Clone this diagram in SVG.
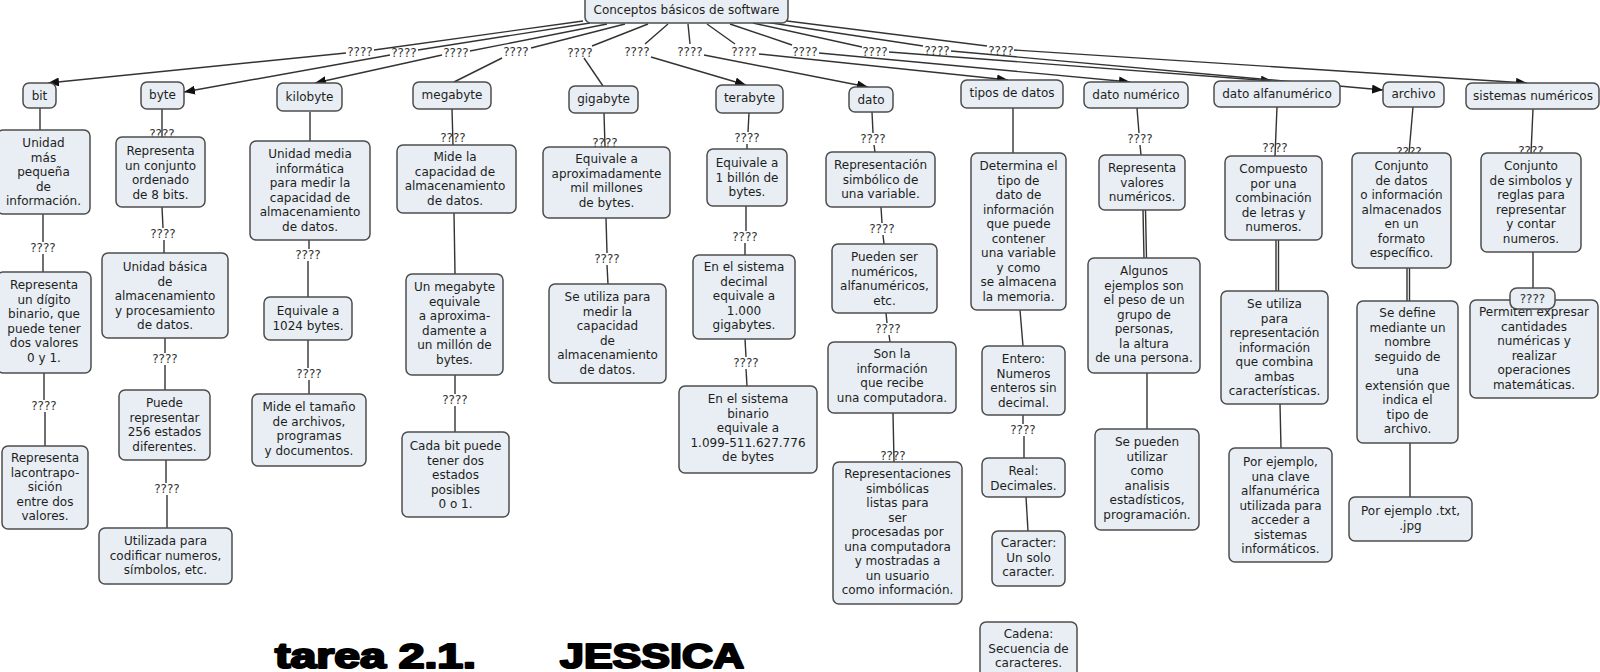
<svg xmlns="http://www.w3.org/2000/svg" width="1600" height="672" viewBox="0 0 1600 672">
<style>
.box{fill:#e8eef3;stroke:#4d4d4d;stroke-width:1.5}
.t{font-family:"DejaVu Sans",Verdana,sans-serif;font-size:12px;fill:#1e1e1e;text-anchor:middle}
.l{font-family:"DejaVu Sans",Verdana,sans-serif;font-size:12px;fill:#333;text-anchor:middle}
.c{stroke:#333;stroke-width:1.4;fill:none}
.a{stroke:#333;stroke-width:1.4;fill:none;marker-end:url(#arr)}
.big{font-family:"Liberation Sans",Arial,sans-serif;font-weight:bold;font-size:35px;fill:#000;stroke:#000;stroke-width:2.2;stroke-linejoin:round}
</style>
<defs>
<marker id="arr" markerUnits="userSpaceOnUse" markerWidth="12" markerHeight="10" refX="11" refY="4.5" orient="auto">
<path d="M0,0 L11,4.5 L0,9 z" fill="#111"/>
</marker>
</defs>
<rect width="1600" height="672" fill="#fff"/>
<g id="connectors">
<line class="c" x1="583" y1="21" x2="374" y2="50"/>
<line class="c" x1="590" y1="23" x2="418" y2="50"/>
<line class="c" x1="607" y1="24" x2="470" y2="51"/>
<line class="c" x1="625" y1="24" x2="531" y2="48"/>
<line class="c" x1="648" y1="24" x2="592" y2="46"/>
<line class="c" x1="668" y1="24" x2="645" y2="44"/>
<line class="c" x1="688" y1="24" x2="690" y2="44"/>
<line class="c" x1="707" y1="24" x2="735" y2="44"/>
<line class="c" x1="730" y1="24" x2="792" y2="45"/>
<line class="c" x1="753" y1="23" x2="862" y2="47"/>
<line class="c" x1="765" y1="22" x2="923" y2="46"/>
<line class="c" x1="787" y1="21" x2="987" y2="46"/>
<line class="a" x1="346" y1="53" x2="48" y2="83"/>
<line class="a" x1="390" y1="55" x2="184" y2="92"/>
<line class="a" x1="442" y1="55" x2="315" y2="83"/>
<line class="c" x1="502" y1="58" x2="454" y2="82"/>
<line class="c" x1="584" y1="58" x2="603" y2="86"/>
<line class="a" x1="651" y1="57" x2="746" y2="85"/>
<line class="a" x1="704" y1="55" x2="868" y2="87"/>
<line class="a" x1="759" y1="54" x2="1008" y2="80"/>
<line class="a" x1="819" y1="53" x2="1130" y2="82"/>
<line class="a" x1="889" y1="52" x2="1272" y2="81"/>
<line class="a" x1="951" y1="51" x2="1383" y2="90"/>
<line class="a" x1="1014" y1="50" x2="1527" y2="83"/>
<g class="l">
<text x="360" y="56">????</text><text x="404" y="57">????</text><text x="456" y="57">????</text>
<text x="516" y="56">????</text><text x="580" y="57">????</text><text x="637" y="56">????</text>
<text x="690" y="56">????</text><text x="744" y="56">????</text><text x="805" y="56">????</text>
<text x="875" y="56">????</text><text x="937" y="55">????</text><text x="1001" y="55">????</text>
</g>
<line class="c" x1="40" y1="108" x2="40" y2="130"/>
<line class="c" x1="43" y1="214" x2="43" y2="242"/><line class="c" x1="43" y1="254" x2="43" y2="272"/>
<line class="c" x1="44" y1="373" x2="44" y2="400"/><line class="c" x1="45" y1="412" x2="45" y2="446"/>
<line class="c" x1="162" y1="109" x2="162" y2="137"/>
<line class="c" x1="162" y1="207" x2="163" y2="228"/><line class="c" x1="164" y1="240" x2="164" y2="253"/>
<line class="c" x1="165" y1="338" x2="165" y2="353"/><line class="c" x1="165" y1="365" x2="165" y2="390"/>
<line class="c" x1="166" y1="460" x2="166" y2="483"/><line class="c" x1="167" y1="495" x2="167" y2="528"/>
<line class="c" x1="310" y1="112" x2="310" y2="141"/>
<line class="c" x1="309" y1="240" x2="309" y2="249"/><line class="c" x1="308" y1="261" x2="308" y2="297"/>
<line class="c" x1="308" y1="340" x2="308" y2="368"/><line class="c" x1="309" y1="380" x2="309" y2="394"/>
<line class="c" x1="452" y1="109" x2="453" y2="145"/>
<line class="c" x1="454" y1="213" x2="455" y2="274"/>
<line class="c" x1="455" y1="375" x2="455" y2="394"/><line class="c" x1="455" y1="406" x2="455" y2="432"/>
<line class="c" x1="604" y1="113" x2="605" y2="147"/>
<line class="c" x1="606" y1="218" x2="607" y2="253"/><line class="c" x1="607" y1="265" x2="608" y2="284"/>
<line class="c" x1="749" y1="113" x2="748" y2="132"/><line class="c" x1="747" y1="144" x2="747" y2="149"/>
<line class="c" x1="746" y1="206" x2="746" y2="231"/><line class="c" x1="745" y1="243" x2="745" y2="255"/>
<line class="c" x1="745" y1="339" x2="746" y2="357"/><line class="c" x1="746" y1="369" x2="747" y2="386"/>
<line class="c" x1="872" y1="112" x2="873" y2="133"/><line class="c" x1="874" y1="145" x2="875" y2="152"/>
<line class="c" x1="881" y1="207" x2="882" y2="223"/><line class="c" x1="883" y1="235" x2="884" y2="244"/>
<line class="c" x1="886" y1="313" x2="887" y2="323"/><line class="c" x1="889" y1="335" x2="890" y2="342"/>
<line class="c" x1="893" y1="413" x2="894" y2="462"/>
<line class="c" x1="1013" y1="108" x2="1013" y2="153"/>
<line class="c" x1="1020" y1="310" x2="1023" y2="346"/>
<line class="c" x1="1023" y1="415" x2="1023" y2="424" stroke-width="2"/><line class="c" x1="1024" y1="436" x2="1024" y2="458" stroke-width="2"/>
<line class="c" x1="1026" y1="497" x2="1028" y2="531"/>
<line class="c" x1="1137" y1="108" x2="1139" y2="133"/><line class="c" x1="1140" y1="145" x2="1141" y2="155"/>
<line class="c" x1="1143" y1="210" x2="1144" y2="258"/><line class="c" x1="1145.5" y1="210" x2="1146.5" y2="258"/>
<line class="c" x1="1147" y1="373" x2="1147" y2="429"/>
<line class="c" x1="1277" y1="107" x2="1275" y2="156"/>
<line class="c" x1="1276" y1="240" x2="1276" y2="291"/><line class="c" x1="1278.5" y1="240" x2="1278.5" y2="291"/>
<line class="c" x1="1280" y1="404" x2="1281" y2="448"/>
<line class="c" x1="1413" y1="107" x2="1409" y2="153"/>
<line class="c" x1="1407" y1="268" x2="1407" y2="301"/><line class="c" x1="1409.5" y1="268" x2="1409.5" y2="301"/>
<line class="c" x1="1410" y1="443" x2="1410" y2="497"/>
<line class="c" x1="1533" y1="109" x2="1531" y2="153"/>
<line class="c" x1="1533" y1="252" x2="1533" y2="289"/>
<g class="l">
<text x="43" y="252">????</text><text x="44" y="410">????</text>
<text x="162" y="138">????</text><text x="163" y="238">????</text><text x="165" y="363">????</text><text x="167" y="493">????</text>
<text x="308" y="259">????</text><text x="309" y="378">????</text>
<text x="453" y="142">????</text><text x="455" y="404">????</text>
<text x="605" y="147">????</text><text x="607" y="263">????</text>
<text x="747" y="142">????</text><text x="745" y="241">????</text><text x="746" y="367">????</text>
<text x="873" y="143">????</text><text x="882" y="233">????</text><text x="888" y="333">????</text><text x="893" y="460">????</text>
<text x="1023" y="434">????</text>
<text x="1140" y="143">????</text>
<text x="1275" y="152">????</text>
<text x="1409" y="156">????</text>
<text x="1531" y="155">????</text>
</g>
</g>
<g id="root"><rect class="box" x="585" y="-6" width="203" height="29" rx="6"/><text class="t" x="686.5" y="14">Conceptos básicos de software</text></g>
<g id="bit"><rect class="box" x="23" y="83" width="33" height="25" rx="6"/><text class="t" x="39.5" y="100">bit</text></g>
<g id="byte"><rect class="box" x="141" y="82" width="43" height="27" rx="6"/><text class="t" x="162.5" y="99">byte</text></g>
<g id="kilobyte"><rect class="box" x="277" y="83" width="65" height="28" rx="6"/><text class="t" x="309.5" y="101">kilobyte</text></g>
<g id="megabyte"><rect class="box" x="413" y="82" width="78" height="27" rx="6"/><text class="t" x="452" y="99">megabyte</text></g>
<g id="gigabyte"><rect class="box" x="569" y="86" width="69" height="27" rx="6"/><text class="t" x="603.5" y="103">gigabyte</text></g>
<g id="terabyte"><rect class="box" x="716" y="85" width="67" height="28" rx="6"/><text class="t" x="749.5" y="102">terabyte</text></g>
<g id="dato"><rect class="box" x="849" y="87" width="44" height="25" rx="6"/><text class="t" x="871" y="104">dato</text></g>
<g id="tipos"><rect class="box" x="961" y="80" width="102" height="28" rx="6"/><text class="t" x="1012" y="97">tipos de datos</text></g>
<g id="numerico"><rect class="box" x="1084" y="82" width="104" height="26" rx="6"/><text class="t" x="1136" y="99">dato numérico</text></g>
<g id="alfanumerico"><rect class="box" x="1214" y="81" width="126" height="26" rx="6"/><text class="t" x="1277" y="98">dato alfanumérico</text></g>
<g id="archivo"><rect class="box" x="1383" y="82" width="61" height="25" rx="6"/><text class="t" x="1413.5" y="98">archivo</text></g>
<g id="sistemas"><rect class="box" x="1466" y="83" width="133" height="26" rx="6"/><text class="t" x="1533" y="100">sistemas numéricos</text></g>

<g id="bit1"><rect class="box" x="-3" y="130" width="93" height="84" rx="6"/><text class="t" y="147"><tspan x="43.5">Unidad</tspan><tspan x="43.5" dy="14.5">más</tspan><tspan x="43.5" dy="14.5">pequeña</tspan><tspan x="43.5" dy="14.5">de</tspan><tspan x="43.5" dy="14.5">información.</tspan></text></g>
<g id="bit2"><rect class="box" x="-3" y="272" width="94" height="101" rx="6"/><text class="t" y="289"><tspan x="44">Representa</tspan><tspan x="44" dy="14.5">un dígito</tspan><tspan x="44" dy="14.5">binario, que</tspan><tspan x="44" dy="14.5">puede tener</tspan><tspan x="44" dy="14.5">dos valores</tspan><tspan x="44" dy="14.5">0 y 1.</tspan></text></g>
<g id="bit3"><rect class="box" x="2" y="446" width="86" height="83" rx="6"/><text class="t" y="462"><tspan x="45">Representa</tspan><tspan x="45" dy="14.5">lacontrapo-</tspan><tspan x="45" dy="14.5">sición</tspan><tspan x="45" dy="14.5">entre dos</tspan><tspan x="45" dy="14.5">valores.</tspan></text></g>
<g id="byte1"><rect class="box" x="116" y="137" width="89" height="70" rx="6"/><text class="t" y="155"><tspan x="160.5">Representa</tspan><tspan x="160.5" dy="14.5">un conjunto</tspan><tspan x="160.5" dy="14.5">ordenado</tspan><tspan x="160.5" dy="14.5">de 8 bits.</tspan></text></g>
<g id="byte2"><rect class="box" x="102" y="253" width="126" height="85" rx="6"/><text class="t" y="271"><tspan x="165">Unidad básica</tspan><tspan x="165" dy="14.5">de</tspan><tspan x="165" dy="14.5">almacenamiento</tspan><tspan x="165" dy="14.5">y procesamiento</tspan><tspan x="165" dy="14.5">de datos.</tspan></text></g>
<g id="byte3"><rect class="box" x="119" y="390" width="91" height="70" rx="6"/><text class="t" y="407"><tspan x="164.5">Puede</tspan><tspan x="164.5" dy="14.5">representar</tspan><tspan x="164.5" dy="14.5">256 estados</tspan><tspan x="164.5" dy="14.5">diferentes.</tspan></text></g>
<g id="byte4"><rect class="box" x="99" y="528" width="133" height="56" rx="6"/><text class="t" y="545"><tspan x="165.5">Utilizada para</tspan><tspan x="165.5" dy="14.5">codificar numeros,</tspan><tspan x="165.5" dy="14.5">símbolos, etc.</tspan></text></g>
<g id="kb1"><rect class="box" x="250" y="141" width="120" height="99" rx="6"/><text class="t" y="158"><tspan x="310">Unidad media</tspan><tspan x="310" dy="14.5">informática</tspan><tspan x="310" dy="14.5">para medir la</tspan><tspan x="310" dy="14.5">capacidad de</tspan><tspan x="310" dy="14.5">almacenamiento</tspan><tspan x="310" dy="14.5">de datos.</tspan></text></g>
<g id="kb2"><rect class="box" x="264" y="297" width="88" height="43" rx="6"/><text class="t" y="315"><tspan x="308">Equivale a</tspan><tspan x="308" dy="14.5">1024 bytes.</tspan></text></g>
<g id="kb3"><rect class="box" x="252" y="394" width="114" height="72" rx="6"/><text class="t" y="411"><tspan x="309">Mide el tamaño</tspan><tspan x="309" dy="14.5">de archivos,</tspan><tspan x="309" dy="14.5">programas</tspan><tspan x="309" dy="14.5">y documentos.</tspan></text></g>
<g id="mb1"><rect class="box" x="397" y="145" width="119" height="68" rx="6"/><text class="t" y="161"><tspan x="455">Mide la</tspan><tspan x="455" dy="14.5">capacidad de</tspan><tspan x="455" dy="14.5">almacenamiento</tspan><tspan x="455" dy="14.5">de datos.</tspan></text></g>
<g id="mb2"><rect class="box" x="406" y="274" width="97" height="101" rx="6"/><text class="t" y="291"><tspan x="454.5">Un megabyte</tspan><tspan x="454.5" dy="14.5">equivale</tspan><tspan x="454.5" dy="14.5">a aproxima-</tspan><tspan x="454.5" dy="14.5">damente a</tspan><tspan x="454.5" dy="14.5">un millón de</tspan><tspan x="454.5" dy="14.5">bytes.</tspan></text></g>
<g id="mb3"><rect class="box" x="402" y="432" width="107" height="85" rx="6"/><text class="t" y="450"><tspan x="455.5">Cada bit puede</tspan><tspan x="455.5" dy="14.5">tener dos</tspan><tspan x="455.5" dy="14.5">estados</tspan><tspan x="455.5" dy="14.5">posibles</tspan><tspan x="455.5" dy="14.5">0 o 1.</tspan></text></g>
<g id="gb1"><rect class="box" x="543" y="147" width="127" height="71" rx="6"/><text class="t" y="163"><tspan x="606.5">Equivale a</tspan><tspan x="606.5" dy="14.5">aproximadamente</tspan><tspan x="606.5" dy="14.5">mil millones</tspan><tspan x="606.5" dy="14.5">de bytes.</tspan></text></g>
<g id="gb2"><rect class="box" x="549" y="284" width="117" height="99" rx="6"/><text class="t" y="301"><tspan x="607.5">Se utiliza para</tspan><tspan x="607.5" dy="14.5">medir la</tspan><tspan x="607.5" dy="14.5">capacidad</tspan><tspan x="607.5" dy="14.5">de</tspan><tspan x="607.5" dy="14.5">almacenamiento</tspan><tspan x="607.5" dy="14.5">de datos.</tspan></text></g>
<g id="tb1"><rect class="box" x="707" y="149" width="80" height="57" rx="6"/><text class="t" y="167"><tspan x="747">Equivale a</tspan><tspan x="747" dy="14.5">1 billón de</tspan><tspan x="747" dy="14.5">bytes.</tspan></text></g>
<g id="tb2"><rect class="box" x="693" y="255" width="102" height="84" rx="6"/><text class="t" y="271"><tspan x="744">En el sistema</tspan><tspan x="744" dy="14.5">decimal</tspan><tspan x="744" dy="14.5">equivale a</tspan><tspan x="744" dy="14.5">1.000</tspan><tspan x="744" dy="14.5">gigabytes.</tspan></text></g>
<g id="tb3"><rect class="box" x="679" y="386" width="138" height="87" rx="6"/><text class="t" y="403"><tspan x="748">En el sistema</tspan><tspan x="748" dy="14.5">binario</tspan><tspan x="748" dy="14.5">equivale a</tspan><tspan x="748" dy="14.5">1.099-511.627.776</tspan><tspan x="748" dy="14.5">de bytes</tspan></text></g>
<g id="d1"><rect class="box" x="826" y="152" width="109" height="55" rx="6"/><text class="t" y="169"><tspan x="880.5">Representación</tspan><tspan x="880.5" dy="14.5">simbólico de</tspan><tspan x="880.5" dy="14.5">una variable.</tspan></text></g>
<g id="d2"><rect class="box" x="832" y="244" width="105" height="69" rx="6"/><text class="t" y="261"><tspan x="884.5">Pueden ser</tspan><tspan x="884.5" dy="14.5">numéricos,</tspan><tspan x="884.5" dy="14.5">alfanuméricos,</tspan><tspan x="884.5" dy="14.5">etc.</tspan></text></g>
<g id="d3"><rect class="box" x="828" y="342" width="128" height="71" rx="6"/><text class="t" y="358"><tspan x="892">Son la</tspan><tspan x="892" dy="14.5">información</tspan><tspan x="892" dy="14.5">que recibe</tspan><tspan x="892" dy="14.5">una computadora.</tspan></text></g>
<g id="d4"><rect class="box" x="833" y="462" width="129" height="142" rx="6"/><text class="t" y="478"><tspan x="897.5">Representaciones</tspan><tspan x="897.5" dy="14.5">simbólicas</tspan><tspan x="897.5" dy="14.5">listas para</tspan><tspan x="897.5" dy="14.5">ser</tspan><tspan x="897.5" dy="14.5">procesadas por</tspan><tspan x="897.5" dy="14.5">una computadora</tspan><tspan x="897.5" dy="14.5">y mostradas a</tspan><tspan x="897.5" dy="14.5">un usuario</tspan><tspan x="897.5" dy="14.5">como información.</tspan></text></g>
<g id="t1"><rect class="box" x="971" y="153" width="95" height="157" rx="6"/><text class="t" y="170"><tspan x="1018.5">Determina el</tspan><tspan x="1018.5" dy="14.5">tipo de</tspan><tspan x="1018.5" dy="14.5">dato de</tspan><tspan x="1018.5" dy="14.5">información</tspan><tspan x="1018.5" dy="14.5">que puede</tspan><tspan x="1018.5" dy="14.5">contener</tspan><tspan x="1018.5" dy="14.5">una variable</tspan><tspan x="1018.5" dy="14.5">y como</tspan><tspan x="1018.5" dy="14.5">se almacena</tspan><tspan x="1018.5" dy="14.5">la memoria.</tspan></text></g>
<g id="t2"><rect class="box" x="982" y="346" width="83" height="69" rx="6"/><text class="t" y="363"><tspan x="1023.5">Entero:</tspan><tspan x="1023.5" dy="14.5">Numeros</tspan><tspan x="1023.5" dy="14.5">enteros sin</tspan><tspan x="1023.5" dy="14.5">decimal.</tspan></text></g>
<g id="t3"><rect class="box" x="982" y="458" width="83" height="39" rx="6"/><text class="t" y="475"><tspan x="1023.5">Real:</tspan><tspan x="1023.5" dy="14.5">Decimales.</tspan></text></g>
<g id="t4"><rect class="box" x="992" y="531" width="73" height="55" rx="6"/><text class="t" y="547"><tspan x="1028.5">Caracter:</tspan><tspan x="1028.5" dy="14.5">Un solo</tspan><tspan x="1028.5" dy="14.5">caracter.</tspan></text></g>
<g id="t5"><rect class="box" x="980" y="622" width="97" height="58" rx="6"/><text class="t" y="638"><tspan x="1028.5">Cadena:</tspan><tspan x="1028.5" dy="14.5">Secuencia de</tspan><tspan x="1028.5" dy="14.5">caracteres.</tspan></text></g>
<g id="nu1"><rect class="box" x="1099" y="155" width="86" height="55" rx="6"/><text class="t" y="172"><tspan x="1142">Representa</tspan><tspan x="1142" dy="14.5">valores</tspan><tspan x="1142" dy="14.5">numéricos.</tspan></text></g>
<g id="nu2"><rect class="box" x="1088" y="258" width="112" height="115" rx="6"/><text class="t" y="275"><tspan x="1144">Algunos</tspan><tspan x="1144" dy="14.5">ejemplos son</tspan><tspan x="1144" dy="14.5">el peso de un</tspan><tspan x="1144" dy="14.5">grupo de</tspan><tspan x="1144" dy="14.5">personas,</tspan><tspan x="1144" dy="14.5">la altura</tspan><tspan x="1144" dy="14.5">de una persona.</tspan></text></g>
<g id="nu3"><rect class="box" x="1095" y="429" width="104" height="101" rx="6"/><text class="t" y="446"><tspan x="1147">Se pueden</tspan><tspan x="1147" dy="14.5">utilizar</tspan><tspan x="1147" dy="14.5">como</tspan><tspan x="1147" dy="14.5">analisis</tspan><tspan x="1147" dy="14.5">estadísticos,</tspan><tspan x="1147" dy="14.5">programación.</tspan></text></g>
<g id="al1"><rect class="box" x="1225" y="156" width="97" height="84" rx="6"/><text class="t" y="173"><tspan x="1273.5">Compuesto</tspan><tspan x="1273.5" dy="14.5">por una</tspan><tspan x="1273.5" dy="14.5">combinación</tspan><tspan x="1273.5" dy="14.5">de letras y</tspan><tspan x="1273.5" dy="14.5">numeros.</tspan></text></g>
<g id="al2"><rect class="box" x="1221" y="291" width="107" height="113" rx="6"/><text class="t" y="308"><tspan x="1274.5">Se utiliza</tspan><tspan x="1274.5" dy="14.5">para</tspan><tspan x="1274.5" dy="14.5">representación</tspan><tspan x="1274.5" dy="14.5">información</tspan><tspan x="1274.5" dy="14.5">que combina</tspan><tspan x="1274.5" dy="14.5">ambas</tspan><tspan x="1274.5" dy="14.5">características.</tspan></text></g>
<g id="al3"><rect class="box" x="1229" y="448" width="103" height="114" rx="6"/><text class="t" y="466"><tspan x="1280.5">Por ejemplo,</tspan><tspan x="1280.5" dy="14.5">una clave</tspan><tspan x="1280.5" dy="14.5">alfanumérica</tspan><tspan x="1280.5" dy="14.5">utilizada para</tspan><tspan x="1280.5" dy="14.5">acceder a</tspan><tspan x="1280.5" dy="14.5">sistemas</tspan><tspan x="1280.5" dy="14.5">informáticos.</tspan></text></g>
<g id="ar1"><rect class="box" x="1352" y="153" width="99" height="115" rx="6"/><text class="t" y="170"><tspan x="1401.5">Conjunto</tspan><tspan x="1401.5" dy="14.5">de datos</tspan><tspan x="1401.5" dy="14.5">o información</tspan><tspan x="1401.5" dy="14.5">almacenados</tspan><tspan x="1401.5" dy="14.5">en un</tspan><tspan x="1401.5" dy="14.5">formato</tspan><tspan x="1401.5" dy="14.5">específico.</tspan></text></g>
<g id="ar2"><rect class="box" x="1357" y="301" width="101" height="142" rx="6"/><text class="t" y="317"><tspan x="1407.5">Se define</tspan><tspan x="1407.5" dy="14.5">mediante un</tspan><tspan x="1407.5" dy="14.5">nombre</tspan><tspan x="1407.5" dy="14.5">seguido de</tspan><tspan x="1407.5" dy="14.5">una</tspan><tspan x="1407.5" dy="14.5">extensión que</tspan><tspan x="1407.5" dy="14.5">indica el</tspan><tspan x="1407.5" dy="14.5">tipo de</tspan><tspan x="1407.5" dy="14.5">archivo.</tspan></text></g>
<g id="ar3"><rect class="box" x="1349" y="497" width="123" height="44" rx="6"/><text class="t" y="515"><tspan x="1410.5">Por ejemplo .txt,</tspan><tspan x="1410.5" dy="14.5">.jpg</tspan></text></g>
<g id="si1"><rect class="box" x="1481" y="153" width="100" height="99" rx="6"/><text class="t" y="170"><tspan x="1531">Conjunto</tspan><tspan x="1531" dy="14.5">de simbolos y</tspan><tspan x="1531" dy="14.5">reglas para</tspan><tspan x="1531" dy="14.5">representar</tspan><tspan x="1531" dy="14.5">y contar</tspan><tspan x="1531" dy="14.5">numeros.</tspan></text></g>
<g id="si2"><rect class="box" x="1470" y="300" width="128" height="98" rx="6"/><text class="t" y="316"><tspan x="1534">Permiten expresar</tspan><tspan x="1534" dy="14.5">cantidades</tspan><tspan x="1534" dy="14.5">numéricas y</tspan><tspan x="1534" dy="14.5">realizar</tspan><tspan x="1534" dy="14.5">operaciones</tspan><tspan x="1534" dy="14.5">matemáticas.</tspan></text></g>
<g id="si-label"><rect class="box" x="1510" y="288" width="45" height="21" rx="7"/><text class="l" x="1532.5" y="303">????</text></g>
<g id="title">
<text class="big" x="275" y="668" textLength="201" lengthAdjust="spacingAndGlyphs">tarea 2.1.</text>
<text class="big" x="560" y="668" textLength="184" lengthAdjust="spacingAndGlyphs">JESSICA</text>
</g>
</svg>
